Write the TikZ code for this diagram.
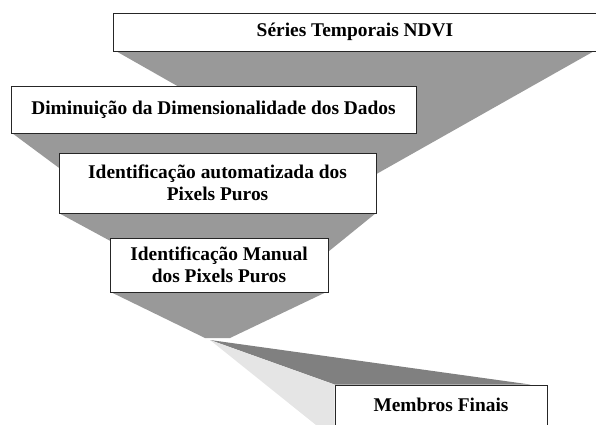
\documentclass[tikz,border=0pt]{standalone}
\usepackage{fontspec}
\setmainfont{Liberation Serif}
\usetikzlibrary{backgrounds}
\begin{document}
\begin{tikzpicture}[x=1pt,y=1pt,
    stage/.style={draw=black!85,line width=0.9pt,fill=white,inner sep=0pt,
      align=center,font=\fontsize{19.4}{22.5}\selectfont\bfseries},
    funnel/.style={fill=black!40},
    funneldark/.style={fill=black!50},
    funnellight/.style={fill=black!10}]
  \useasboundingbox (0,0) rectangle (596,424);
  \draw
    (355,392) node[stage,minimum width=484pt,minimum height=38pt] (top){Séries Temporais NDVI}
    (213.5,314.5) node[stage,minimum width=405pt,minimum height=47pt] (dim){Diminuição da Dimensionalidade dos Dados}
    (217.5,241) node[stage,minimum width=317pt,minimum height=60pt] (auto){Identificação automatizada dos\\Pixels Puros}
    (219,159) node[stage,minimum width=218pt,minimum height=54pt] (manual){Identificação Manual\\dos Pixels Puros}
    (441,19) node[stage,minimum width=212pt,minimum height=40pt] (final){Membros Finais};
  \coordinate (tipl) at (205,86);
  \coordinate (tipr) at (230,86);
  \coordinate (fork) at (210,84);
  \begin{scope}[on background layer]
    \fill[funnel] ([xshift=4pt]top.south west) -- ([xshift=-4pt]top.south east)
      -- ([yshift=9pt]auto.east) -- ([xshift=166pt]dim.north west) -- cycle;
    \fill[funnel] ([xshift=2pt]dim.south west) -- ([xshift=-2pt]dim.south east)
      -- (auto.north east) -- ([yshift=-15pt]auto.north west) -- cycle;
    \fill[funnel] ([xshift=1pt]auto.south west) -- ([xshift=-1pt]auto.south east)
      -- ([yshift=-14pt]manual.north east) -- ([yshift=-3pt]manual.north west) -- cycle;
    \fill[funnel] ([xshift=2pt]manual.south west) -- ([xshift=-3pt]manual.south east)
      -- (tipr) -- (tipl) -- cycle;
    \fill[funneldark] (fork) -- ([xshift=-17pt]final.north east) -- (final.north west) -- cycle;
    \fill[funnellight] (fork) -- (final.north west) -- (final.south west) -- (316,-1) -- cycle;
  \end{scope}
\end{tikzpicture}
\end{document}
